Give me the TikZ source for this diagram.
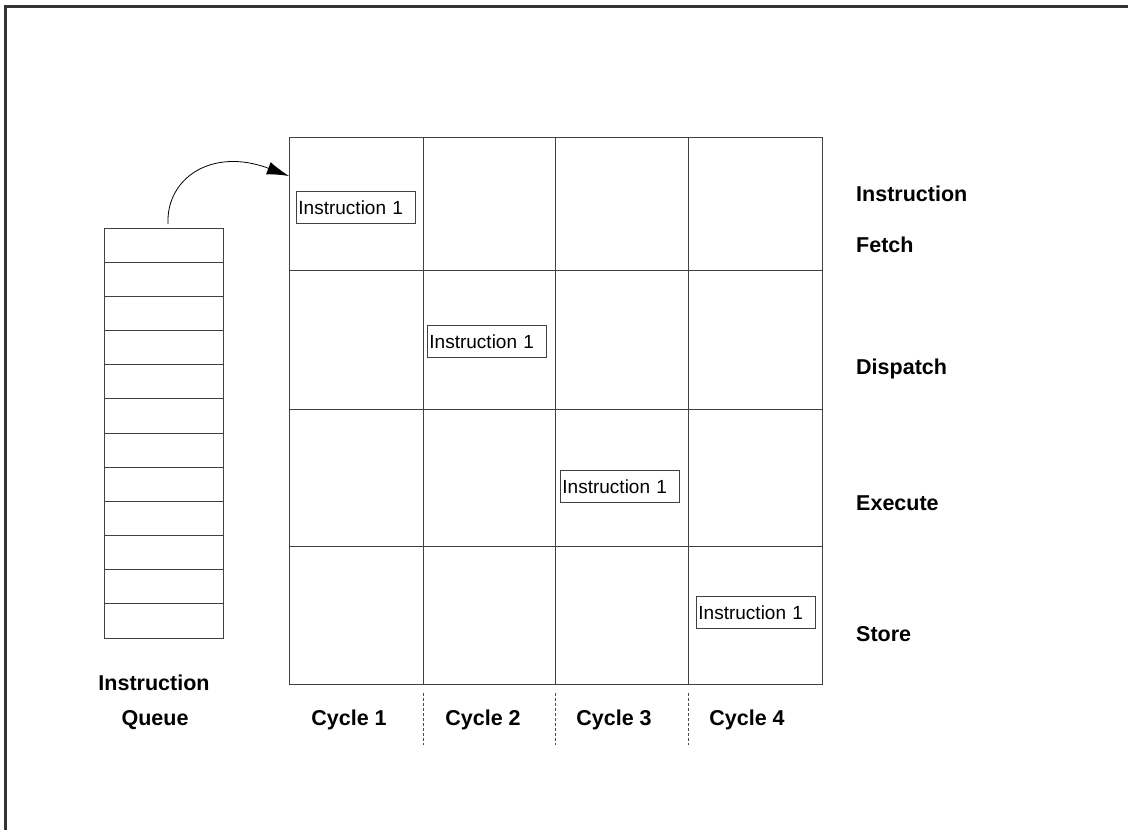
\documentclass[tikz,border=0pt]{standalone}
\usepackage{fontspec}
\setmainfont{Liberation Sans}
\usetikzlibrary{arrows.meta}
\begin{document}
\begin{tikzpicture}[x=1pt,y=-1pt,
  frameline/.style={draw=black!80,line width=2.4pt},
  gridline/.style={draw=black!75,line width=1pt},
  cell/.style={draw=black!75,line width=1pt},
  instbox/.style={draw=black!75,line width=0.9pt,fill=white,inner xsep=2pt,inner ysep=0pt,
    text width=115pt,align=left,minimum height=32pt,font=\fontsize{19}{21}\selectfont},
  lbl/.style={font=\bfseries\fontsize{21.5}{24}\selectfont,inner sep=0pt},
  sep/.style={draw=black!70,line width=0.8pt,dash pattern=on 3pt off 2pt}]
\useasboundingbox (0,0) rectangle (1128,830);
\fill[white] (0,0) rectangle (1128,830);
% outer frame (top and left edges)
\draw[frameline] (5.5,830) -- (5.5,6.5) -- (1128,6.5);

% pipeline grid
\draw[gridline] (289,137) rectangle (822,684);
\foreach \x in {423,555,688} \draw[gridline] (\x,137) -- (\x,684);
\foreach \y in {270,409,546} \draw[gridline] (289,\y) -- (822,\y);

% instruction queue
\foreach \i in {0,...,11}
  \path[cell] (104,{228+\i*34.17}) rectangle (223,{228+(\i+1)*34.17});
\coordinate (qtop) at (168,224);
\coordinate (gin) at (289,176);
\draw[line width=0.8pt,-{Latex[length=22pt,width=13pt]}] (qtop) .. controls (166,178) and (212,147) .. (gin);

% instruction moving through the stages
\node[instbox,anchor=north west] (i1) at (296,191) {Instruction 1};
\node[instbox,anchor=north west] (i2) at (427,325) {Instruction 1};
\node[instbox,anchor=north west] (i3) at (560,470) {Instruction 1};
\node[instbox,anchor=north west] (i4) at (696,596) {Instruction 1};

% stage labels
\node[lbl,anchor=base west] (sf1) at (856,201.5) {Instruction};
\node[lbl,anchor=base west] (sf2) at (856,252.5) {Fetch};
\node[lbl,anchor=base west] (sd) at (856,374.3) {Dispatch};
\node[lbl,anchor=base west] (se) at (856,510.5) {Execute};
\node[lbl,anchor=base west] (ss) at (856,641.5) {Store};

% queue label
\node[lbl,anchor=base] (q1) at (154,690.5) {Instruction};
\node[lbl,anchor=base] (q2) at (155,725.5) {Queue};

% cycle labels and separators
\node[lbl,anchor=base] (c1) at (349,725.5) {Cycle 1};
\node[lbl,anchor=base] (c2) at (483,725.5) {Cycle 2};
\node[lbl,anchor=base] (c3) at (614,725.5) {Cycle 3};
\node[lbl,anchor=base] (c4) at (747,725.5) {Cycle 4};
\foreach \x in {423,555,688} \draw[sep] (\x,693) -- (\x,745);
\end{tikzpicture}
\end{document}
